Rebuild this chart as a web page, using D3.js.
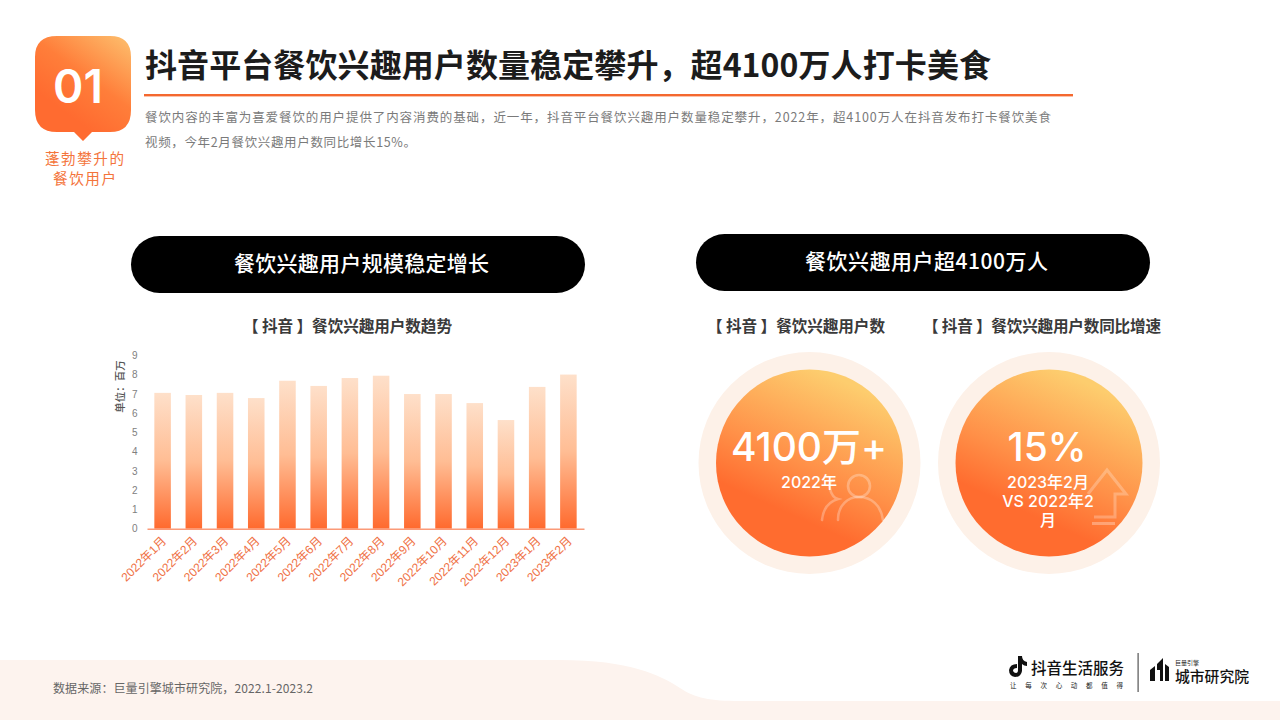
<!DOCTYPE html>
<html><head><meta charset="utf-8">
<script src="https://cdn.jsdelivr.net/npm/d3@7"></script>
<style>html,body{margin:0;padding:0;background:#fff;overflow:hidden}svg{display:block}
text{font-family:"Noto Sans CJK SC","Noto Sans",sans-serif}</style></head>
<body><svg id="c" width="1280" height="720"></svg>
<script>
const months=["2022年1月","2022年2月","2022年3月","2022年4月","2022年5月","2022年6月","2022年7月","2022年8月","2022年9月","2022年10月","2022年11月","2022年12月","2023年1月","2023年2月"];
const users=[7.05,6.94,7.05,6.78,7.68,7.41,7.82,7.94,6.99,6.99,6.52,5.64,7.36,8.0];
const yTicks=[0,1,2,3,4,5,6,7,8,9];
const title="抖音平台餐饮兴趣用户数量稳定攀升，超4100万人打卡美食";
const bodyLines=["餐饮内容的丰富为喜爱餐饮的用户提供了内容消费的基础，近一年，抖音平台餐饮兴趣用户数量稳定攀升，2022年，超4100万人在抖音发布打卡餐饮美食","视频，今年2月餐饮兴趣用户数同比增长15%。"];

const svg=d3.select("#c");
const defs=svg.append("defs");
function grad(id,x1,y1,x2,y2,stops){
  const g=defs.append("linearGradient").attr("id",id).attr("x1",x1).attr("y1",y1).attr("x2",x2).attr("y2",y2);
  stops.forEach(s=>g.append("stop").attr("offset",s[0]).attr("stop-color",s[1]));
}
grad("bar",0,0,0,1,[[0,"#fee0ca"],[0.5,"#ffbd94"],[1,"#ff6a2e"]]);
grad("badge",0.85,0,0.35,0.75,[[0,"#fdb767"],[0.55,"#ff7e3a"],[1,"#ff6b30"]]);
grad("ball",0.72,0.08,0.35,0.9,[[0,"#fdcd6e"],[0.55,"#ff9048"],[0.85,"#ff6c2f"],[1,"#ff6c2f"]]);

// footer band
svg.append("path").attr("fill","#fdf3ee")
 .attr("d","M0,660 L560,660 C630,660 660,675 680,688 C695,698 710,701 740,701 L1280,701 L1280,720 L0,720 Z");

// badge
svg.append("path").attr("fill","url(#badge)")
 .attr("d","M57,36 L110,36 Q131,36 131,57 L131,110 Q131,132 110,132 L92,132 L83,141 L74,132 L57,132 Q35,132 35,110 L35,57 Q35,36 57,36 Z");
const t=(x,y,s,size,fill,anchor,weight)=>svg.append("text").attr("x",x).attr("y",y).text(s).attr("font-size",size).attr("fill",fill).attr("text-anchor",anchor||"start").attr("font-weight",weight||400);
t(78,103,"01",46,"#fff","middle",600).style("font-family","'Inter',sans-serif");
t(45,164,"蓬勃攀升的",14.6,"#f4743b").attr("textLength",79).attr("lengthAdjust","spacing");
t(53,184,"餐饮用户",14.6,"#f4743b").attr("textLength",63).attr("lengthAdjust","spacing");

t(145,77,title,32,"#1c1c1c","start",700).attr("textLength",846).attr("lengthAdjust","spacing");
svg.append("rect").attr("x",144).attr("y",94).attr("width",929).attr("height",2.4).attr("fill","#f4682f");
t(145,122,bodyLines[0],12.5,"#7a7a7a").attr("textLength",906).attr("lengthAdjust","spacing");
t(145,147,bodyLines[1],12.5,"#7a7a7a").attr("textLength",271).attr("lengthAdjust","spacing");

// pills
function pill(x,y,w,h,s,tx,tw){
  svg.append("rect").attr("x",x).attr("y",y).attr("width",w).attr("height",h).attr("rx",h/2).attr("fill","#000");
  t(tx,y+h/2+6.5,s,21,"#fff","start",500).attr("textLength",tw).attr("lengthAdjust","spacing");
}
pill(131,236,454,57,"餐饮兴趣用户规模稳定增长",234,255);
pill(696,234,454,57,"餐饮兴趣用户超4100万人",805,243);

const sub=(x,s,w)=>t(x,332,s,15.6,"#3a3a3a","start",700).attr("textLength",w).attr("lengthAdjust","spacing");
sub(243,"【 抖音 】餐饮兴趣用户数趋势",209);
sub(707,"【 抖音 】餐饮兴趣用户数",178);
sub(923,"【 抖音 】餐饮兴趣用户数同比增速",238);

// chart
const x=d3.scaleBand().domain(months).range([147,584]).paddingInner(0.47).paddingOuter(0.235);
const y=d3.scaleLinear().domain([0,9]).range([528.7,355.3]);
svg.append("g").selectAll("rect").data(users).join("rect")
 .attr("x",(d,i)=>x(months[i])).attr("width",x.bandwidth())
 .attr("y",d=>y(d)).attr("height",d=>y(0)-y(d)).attr("fill","url(#bar)");
const gy=svg.append("g").attr("transform","translate(137.5,0)").call(d3.axisLeft(y).tickValues(yTicks).tickSize(0).tickPadding(0));
gy.select(".domain").remove();
gy.selectAll("text").attr("font-size",10).attr("fill","#808080").style("font-family","'Liberation Sans',sans-serif");
const gx=svg.append("g").attr("transform","translate(0,528.7)").call(d3.axisBottom(x).tickSize(0).tickPadding(0));
gx.select(".domain").attr("stroke","#fb9a78").attr("stroke-width",1.6);
gx.selectAll("text").attr("font-size",12).attr("fill","#ef7246").attr("text-anchor","end")
 .attr("dy",0).attr("y",0).attr("transform",d=>`translate(${x.bandwidth()/2-4},13) rotate(-45)`)
 .style("font-family","'Liberation Sans','Noto Sans CJK SC',sans-serif");
svg.append("text").attr("transform","translate(124,386.5) rotate(-90)").attr("text-anchor","middle").attr("font-size",10.5).attr("font-weight",500).attr("fill","#555").text("单位：百万");

// circles
function ball(cx,cy){
  svg.append("circle").attr("cx",cx).attr("cy",cy).attr("r",111).attr("fill","#fdf1e8");
  svg.append("circle").attr("cx",cx).attr("cy",cy).attr("r",93.5).attr("fill","url(#ball)");
}
ball(809.5,463);ball(1049,463);
// user icon
const ic=svg.append("g").attr("fill","none").attr("stroke","#fff").attr("stroke-opacity",0.28).attr("stroke-width",2.6).attr("stroke-linecap","round");
ic.append("circle").attr("cx",859).attr("cy",486).attr("r",11);
ic.append("path").attr("d","M838,520 C838,505 848,497 859,497 C871,497 881,505 883,520");
ic.append("path").attr("d","M834,480 C826,480 830,497 838,499 C828,502 823,510 822,520");
// arrow icon
svg.append("path").attr("fill","none").attr("stroke","#fff").attr("stroke-opacity",0.25).attr("stroke-width",3)
 .attr("d","M1088,494 L1107,470 L1126,494 L1115,494 L1115,517 L1094,517");
svg.append("rect").attr("x",1092).attr("y",522).attr("width",23).attr("height",3).attr("fill","#fff").attr("opacity",0.3);

const num=(x,y,s,size)=>t(x,y,s,size,"#fff","middle",500).style("font-family","'Inter','Noto Sans CJK SC',sans-serif");
num(809,461,"4100万+",39);
num(809,488,"2022年",16);
num(1047,461,"15%",39);
num(1048,488,"2023年2月",16);
num(1048,507,"VS 2022年2",16);
num(1048,526,"月",16);

// footer
t(53,693,"数据来源：巨量引擎城市研究院，2022.1-2023.2",12,"#666").attr("textLength",260).attr("lengthAdjust","spacing");
svg.append("path").attr("fill","#111").attr("d","M1018,656 L1022,656 Q1022,661 1027,662 L1027,666 Q1024,666 1022,664 L1022,671 Q1021,677 1015,677 Q1009,676 1009,670 Q1010,664 1017,664 L1017,668 Q1013,668 1013,671 Q1014,673 1016,673 Q1018,673 1018,670 Z");
t(1031,674,"抖音生活服务",15.5,"#111","start",500).attr("textLength",93).attr("lengthAdjust","spacing");
t(1010,688,"让 每 次 心 动 都 值 得",6.5,"#222").attr("textLength",113);
svg.append("rect").attr("x",1137.5).attr("y",653).attr("width",1.2).attr("height",39).attr("fill","#555");
// building logo
svg.append("path").attr("fill","#111").attr("d","M1150,670 L1155,666 L1155,681 L1150,681 Z M1157,664 L1163,658 L1163,681 L1160,681 L1160,670 L1157,670 Z M1165,664 L1169,667 L1169,681 L1165,681 Z");
t(1175,664.5,"巨量引擎",6,"#222");
t(1175,682,"城市研究院",14.8,"#111","start",500).attr("textLength",74).attr("lengthAdjust","spacing");
</script></body></html>
